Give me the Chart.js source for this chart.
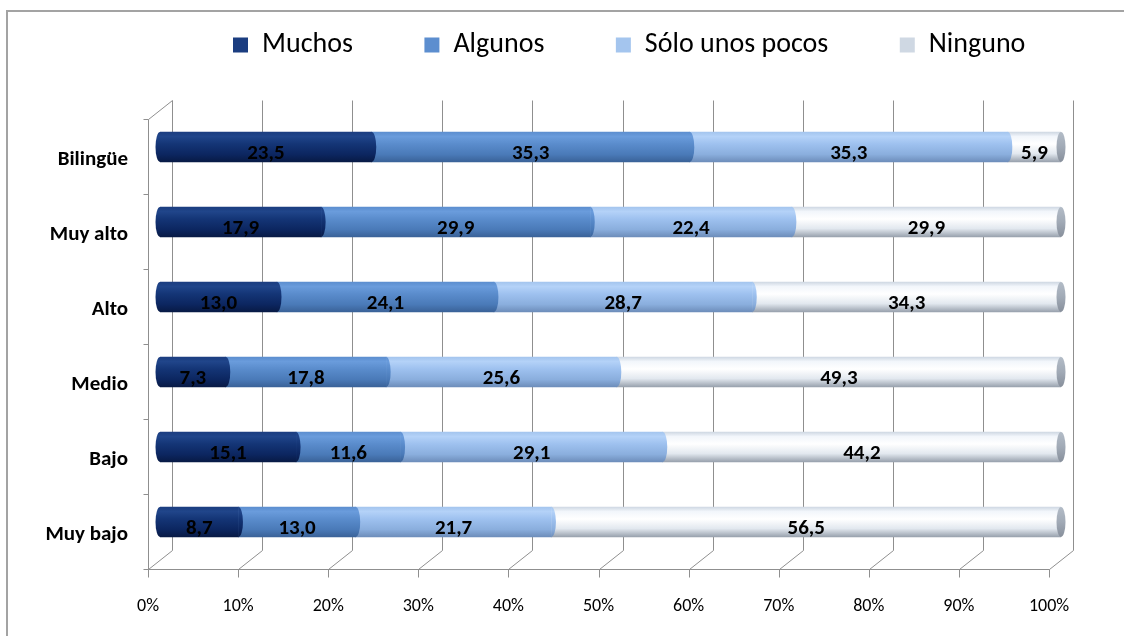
<!DOCTYPE html>
<html>
<head>
<meta charset="utf-8">
<script src="https://cdn.jsdelivr.net/npm/chart.js@4/dist/chart.umd.min.js"></script>
<style>
  html, body { margin: 0; padding: 0; background: #ffffff; }
  #wrap { width: 1124px; height: 636px; }
</style>
</head>
<body>
<div id="wrap"><canvas id="c" width="1124" height="636"></canvas></div>
<script>
// ---- Data ----
const categories = ['Bilingüe', 'Muy alto', 'Alto', 'Medio', 'Bajo', 'Muy bajo'];
const seriesNames = ['Muchos', 'Algunos', 'Sólo unos pocos', 'Ninguno'];
const muchos        = [23.5, 17.9, 13.0,  7.3, 15.1,  8.7];
const algunos       = [35.3, 29.9, 24.1, 17.8, 11.6, 13.0];
const soloUnosPocos = [35.3, 22.4, 28.7, 25.6, 29.1, 21.7];
const ninguno       = [ 5.9, 29.9, 34.3, 49.3, 44.2, 56.5];
const xTickValues   = [0, 10, 20, 30, 40, 50, 60, 70, 80, 90, 100];

// ---- Styles ----
const FONT = 'Carlito, "Liberation Sans Narrow", "DejaVu Sans Condensed", "Noto Sans", sans-serif';
const BAR = 30;      // bar thickness
const DX = 12, DY = 9.5; // 3D depth offsets
const CAP_RX = 4.5;
const legendColors = ['#0d2463', '#4f81bd', '#8db3e2', '#dce6f2'];
const shadeStops = [
  [[0, '#1b3d80'], [0.15, '#20458a'], [0.4, '#143576'], [0.75, '#0c2660'], [1, '#081a45']],
  [[0, '#5c8ecf'], [0.15, '#6a9cdc'], [0.4, '#5a8ccc'], [0.75, '#4a7ab8'], [1, '#3a6298']],
  [[0, '#a4c5ee'], [0.15, '#b4d2f8'], [0.4, '#9ec1ef'], [0.75, '#8aaedd'], [1, '#6d8dba']],
  [[0, '#cfd8e3'], [0.15, '#f2f6fb'], [0.4, '#ffffff'], [0.72, '#e2e8ef'], [1, '#98a1ad']]
];
const capStops = [[0, '#b3bcc7'], [0.5, '#a1aab6'], [1, '#878f9b']];

const rawSeries = [muchos, algunos, soloUnosPocos, ninguno];
// 100% stacked: each row normalised to its total (as the original chart type does)
const rowTotals = categories.map((_, j) => rawSeries.reduce((s, arr) => s + arr[j], 0));
const normSeries = rawSeries.map(arr => arr.map((v, j) => v / rowTotals[j] * 100));

function gradAt(ctx, yc, stops) {
  const g = ctx.createLinearGradient(0, yc - BAR / 2, 0, yc + BAR / 2);
  stops.forEach(s => g.addColorStop(s[0], s[1]));
  return g;
}
function shaded(i) {
  return (c) => {
    if (c.type !== 'data') return legendColors[i];
    const chart = c.chart, ys = chart.scales && chart.scales.y;
    if (!chart.chartArea || !ys) return legendColors[i];
    return gradAt(chart.ctx, ys.getPixelForValue(c.dataIndex), shadeStops[i]);
  };
}

const wallPlugin = {
  id: 'walls',
  beforeDatasetsDraw(chart) {
    const { ctx, chartArea: a, scales: { x } } = chart;
    const r = v => Math.round(v) + 0.5;
    const fy = r(a.bottom + DY), by = r(a.bottom - DY), ty = r(a.top - DY), fty = r(a.top + DY);
    const x0 = x.getPixelForValue(xTickValues[0]);
    const x1 = x.getPixelForValue(xTickValues[xTickValues.length - 1]);
    ctx.save();
    ctx.strokeStyle = '#8f8f8f';
    ctx.lineWidth = 1;
    ctx.beginPath();
    xTickValues.forEach(v => {
      const p = x.getPixelForValue(v);
      ctx.moveTo(r(p + DX), ty); ctx.lineTo(r(p + DX), by);
      ctx.moveTo(r(p - DX), fy); ctx.lineTo(r(p + DX), by);
      ctx.moveTo(r(p - DX), fy); ctx.lineTo(r(p - DX), fy + 8);
    });
    ctx.moveTo(r(x0 - DX), fy); ctx.lineTo(r(x1 - DX), fy);
    ctx.moveTo(r(x0 - DX), fty); ctx.lineTo(r(x0 - DX), fy);
    ctx.moveTo(r(x0 - DX), fty); ctx.lineTo(r(x0 + DX), ty);
    const n = categories.length;
    for (let k = 0; k <= n; k++) {
      const yy = r(a.top + k * (a.height / n) + DY);
      ctx.moveTo(r(x0 - DX) - 5, yy); ctx.lineTo(r(x0 - DX), yy);
    }
    ctx.stroke();
    // outer frame
    ctx.strokeStyle = '#a3a3a3';
    ctx.lineWidth = 2;
    ctx.beginPath();
    ctx.moveTo(7, 640); ctx.lineTo(7, 11); ctx.lineTo(1130, 11);
    ctx.stroke();
    ctx.restore();
  },
  afterDatasetsDraw(chart) {
    const ctx = chart.ctx;
    const last = chart.data.datasets.length - 1;
    ctx.save();
    categories.forEach((_, j) => {
      for (let i = 0; i <= last; i++) {
        const el = chart.getDatasetMeta(i).data[j];
        const { x, y, base, height } = el.getProps(['x', 'y', 'base', 'height'], true);
        const h2 = height / 2;
        if (i === 0) {
          ctx.fillStyle = gradAt(ctx, y, shadeStops[0]);
          ctx.beginPath();
          ctx.ellipse(base, y, CAP_RX, h2, 0, Math.PI / 2, Math.PI * 1.5);
          ctx.closePath();
          ctx.fill();
        }
        if (i < last) {
          ctx.fillStyle = gradAt(ctx, y, shadeStops[i]);
          ctx.beginPath();
          ctx.ellipse(x, y, CAP_RX, h2, 0, -Math.PI / 2, Math.PI / 2);
          ctx.closePath();
          ctx.fill();
        } else {
          ctx.fillStyle = gradAt(ctx, y, capStops);
          ctx.beginPath();
          ctx.ellipse(x, y, CAP_RX, h2, 0, 0, Math.PI * 2);
          ctx.fill();
        }
      }
    });
    // value labels
    ctx.fillStyle = '#000000';
    ctx.font = 'bold 21px ' + FONT;
    ctx.textAlign = 'center';
    ctx.textBaseline = 'middle';
    categories.forEach((_, j) => {
      for (let i = 0; i <= last; i++) {
        const el = chart.getDatasetMeta(i).data[j];
        const { x, y, base } = el.getProps(['x', 'y', 'base'], true);
        const txt = rawSeries[i][j].toFixed(1).replace('.', ',');
        ctx.fillText(txt, (x + base) / 2, y + 7);
      }
    });
    ctx.restore();
  },
  afterLayout(chart) {
    const lg = chart.legend;
    if (!lg) return;
    const pad = lg.options.labels.padding;
    const h = lg.height;
    lg.top = 31 - pad;
    lg.bottom = lg.top + h;
    lg.left = 233 - pad;
    lg.right = 1400;
  }
};

new Chart(document.getElementById('c'), {
  type: 'bar',
  data: {
    labels: categories,
    datasets: seriesNames.map((name, i) => ({
      label: name,
      data: normSeries[i],
      backgroundColor: shaded(i),
      borderWidth: 0,
      barThickness: BAR,
      stack: 's'
    }))
  },
  options: {
    indexAxis: 'y',
    responsive: false,
    devicePixelRatio: 1,
    animation: false,
    layout: { padding: { left: 0, right: 63, top: 0, bottom: 0 } },
    plugins: {
      tooltip: { enabled: false },
      legend: {
        position: 'top',
        align: 'start',
        labels: {
          boxWidth: 15,
          boxHeight: 15,
          padding: 71.5,
          color: '#000000',
          font: { family: FONT, size: 28 }
        }
      }
    },
    scales: {
      x: {
        stacked: true,
        min: 0,
        max: 100,
        grid: { display: false, drawTicks: false },
        border: { display: false },
        afterFit(scale) { scale.height = 76.5; },
        afterBuildTicks(scale) { scale.ticks = xTickValues.map(v => ({ value: v })); },
        ticks: {
          padding: 36,
          labelOffset: -DX,
          maxRotation: 0,
          autoSkip: false,
          color: '#000000',
          font: { family: FONT, size: 18 },
          callback: v => v + '%'
        }
      },
      y: {
        stacked: true,
        grid: { display: false, drawTicks: false },
        border: { display: false },
        afterFit(scale) { scale.width = 160; },
        ticks: {
          padding: 32,
          labelOffset: 13,
          color: '#000000',
          font: { family: FONT, size: 21, weight: 'bold' }
        }
      }
    }
  },
  plugins: [wallPlugin]
});
</script>
</body>
</html>
